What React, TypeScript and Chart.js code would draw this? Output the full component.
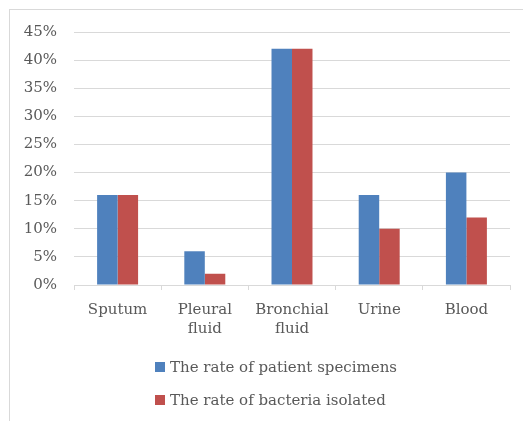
import React, { useEffect, useRef } from "react";
import { Chart, registerables } from "chart.js";

Chart.register(...registerables);

const categories: (string | string[])[] = ["Sputum", ["Pleural", "fluid"], ["Bronchial", "fluid"], "Urine", "Blood"];
const patientSpecimens = [16, 6, 42, 16, 20];
const bacteriaIsolated = [16, 2, 42, 10, 12];
const seriesNames = ["The rate of patient specimens", "The rate of bacteria isolated"];
const seriesColors = ["#4f81bd", "#c0504d"];

const FONT = "'DejaVu Serif', serif";
const TEXT = "#595959";
const GRID = "#d9d9d9";

export default function App() {
  const ref = useRef<HTMLCanvasElement | null>(null);

  useEffect(() => {
    if (!ref.current) return;
    const chart = new Chart(ref.current, {
      type: "bar",
      data: {
        labels: categories,
        datasets: [
          { label: seriesNames[0], data: patientSpecimens, backgroundColor: seriesColors[0], categoryPercentage: 0.47, barPercentage: 1 },
          { label: seriesNames[1], data: bacteriaIsolated, backgroundColor: seriesColors[1], categoryPercentage: 0.47, barPercentage: 1 },
        ],
      },
      options: {
        animation: false,
        responsive: false,
        maintainAspectRatio: false,
        layout: { padding: { left: 0, right: 13, top: 22, bottom: 76 } },
        plugins: { legend: { display: false }, tooltip: { enabled: false } },
        scales: {
          x: {
            grid: { display: true, drawOnChartArea: false, drawTicks: true, tickLength: 5, color: GRID, offset: true },
            border: { display: true, color: GRID },
            ticks: { color: TEXT, font: { family: FONT, size: 15, lineHeight: 1.3 }, padding: 10, maxRotation: 0, autoSkip: false },
            afterFit: (s: any) => { s.height = 60; },
          },
          y: {
            min: 0,
            max: 45,
            grid: { color: GRID, drawTicks: true, tickLength: 4, tickColor: "rgba(0,0,0,0)" },
            border: { display: false },
            ticks: { stepSize: 5, color: TEXT, font: { family: FONT, size: 15 }, padding: 13, callback: (v: any) => v + "%" },
            afterFit: (s: any) => { s.width = 64; },
          },
        },
      },
    });
    return () => chart.destroy();
  }, []);

  return (
    <div style={{ position: "fixed", left: 0, top: 0, width: 523, height: 421, overflow: "hidden", background: "#fff" }}>
      <div style={{ position: "absolute", left: 9, top: 9, width: 700, height: 700, borderTop: `1px solid ${GRID}`, borderLeft: `1px solid ${GRID}` }} />
      <canvas ref={ref} width={513} height={411} style={{ position: "absolute", left: 10, top: 10, width: 513, height: 411 }} />
      {seriesNames.map((name, i) => (
        <div key={name} style={{ position: "absolute", left: 155, top: 357 + i * 33, height: 20, display: "flex", alignItems: "center", fontFamily: FONT, fontSize: 15, color: TEXT, whiteSpace: "nowrap" }}>
          <span style={{ display: "inline-block", width: 10, height: 10, background: seriesColors[i], marginRight: 5 }} />
          <span>{name}</span>
        </div>
      ))}
    </div>
  );
}
